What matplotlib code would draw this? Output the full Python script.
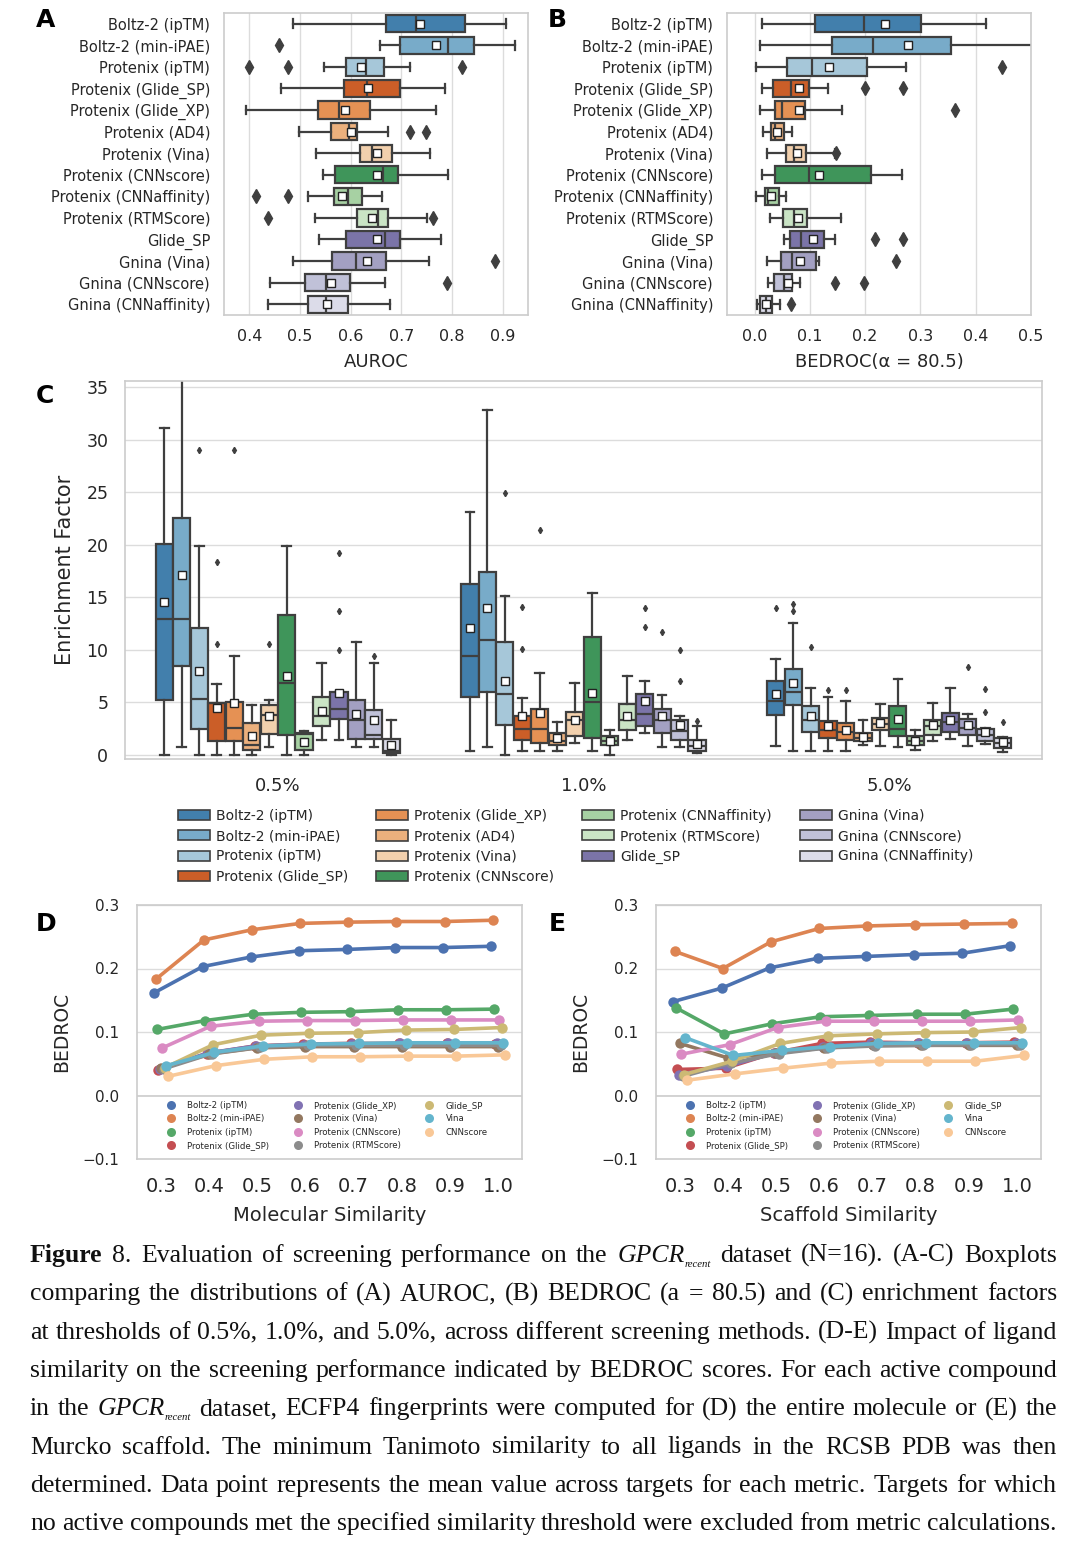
import numpy as np
import matplotlib
matplotlib.use("Agg")
import matplotlib.pyplot as plt
import colorsys
from matplotlib.colors import to_rgb
from matplotlib.patches import Patch, Rectangle
from matplotlib.lines import Line2D

# ---------------- data ----------------
methods = ["Boltz-2 (ipTM)", "Boltz-2 (min-iPAE)", "Protenix (ipTM)", "Protenix (Glide_SP)",
           "Protenix (Glide_XP)", "Protenix (AD4)", "Protenix (Vina)", "Protenix (CNNscore)",
           "Protenix (CNNaffinity)", "Protenix (RTMScore)", "Glide_SP", "Gnina (Vina)",
           "Gnina (CNNscore)", "Gnina (CNNaffinity)"]
box_colors = ["#3182bd", "#6baed6", "#9ecae1", "#e6550d", "#fd8d3c", "#fdae6b", "#fdd0a2",
              "#31a354", "#a1d99b", "#c7e9c0", "#756bb1", "#9e9ac8", "#bcbddc", "#dadaeb"]

auroc_whislo = [0.487, 0.658, 0.548, 0.462, 0.393, 0.499, 0.532, 0.545, 0.516, 0.529, 0.538, 0.487, 0.440, 0.436]
auroc_q1 = [0.669, 0.697, 0.590, 0.586, 0.535, 0.562, 0.619, 0.570, 0.568, 0.613, 0.591, 0.563, 0.509, 0.515]
auroc_med = [0.728, 0.793, 0.631, 0.633, 0.577, 0.596, 0.643, 0.663, 0.594, 0.653, 0.667, 0.610, 0.552, 0.552]
auroc_mean = [0.736, 0.769, 0.621, 0.635, 0.589, 0.601, 0.652, 0.651, 0.583, 0.642, 0.652, 0.633, 0.562, 0.554]
auroc_q3 = [0.825, 0.844, 0.665, 0.698, 0.638, 0.612, 0.682, 0.694, 0.622, 0.673, 0.697, 0.669, 0.598, 0.595]
auroc_whishi = [0.907, 0.924, 0.717, 0.786, 0.768, 0.673, 0.756, 0.792, 0.661, 0.750, 0.778, 0.755, 0.667, 0.677]
auroc_fliers = [[], [0.459], [0.400, 0.476, 0.819], [], [], [0.717, 0.748], [], [], [0.414, 0.477],
                [0.437, 0.763], [], [0.884], [0.790], []]

bedroc_whislo = [0.013, 0.010, 0.002, 0.014, 0.009, 0.016, 0.023, 0.014, 0.003, 0.027, 0.053, 0.022, 0.025, 0.004]
bedroc_q1 = [0.110, 0.140, 0.058, 0.033, 0.036, 0.029, 0.057, 0.036, 0.019, 0.052, 0.064, 0.047, 0.035, 0.010]
bedroc_med = [0.198, 0.214, 0.104, 0.065, 0.050, 0.036, 0.071, 0.098, 0.025, 0.071, 0.084, 0.067, 0.053, 0.021]
bedroc_mean = [0.235, 0.278, 0.134, 0.081, 0.080, 0.040, 0.077, 0.117, 0.029, 0.079, 0.106, 0.082, 0.061, 0.021]
bedroc_q3 = [0.301, 0.356, 0.204, 0.099, 0.092, 0.053, 0.093, 0.210, 0.044, 0.095, 0.125, 0.111, 0.068, 0.032]
bedroc_whishi = [0.418, 0.520, 0.273, 0.133, 0.158, 0.067, 0.145, 0.267, 0.056, 0.157, 0.146, 0.117, 0.082, 0.045]
bedroc_fliers = [[], [], [0.448], [0.199, 0.269], [0.362], [], [0.147], [], [], [], [0.217, 0.269],
                 [0.256], [0.145, 0.198], [0.065]]

ef_groups = ["0.5%", "1.0%", "5.0%"]
# per group: 14 methods
ef_whislo = [[0, 0.7, 0, 0, 0, 0, 0.7, 0, 0, 1.4, 1.4, 0.7, 0.7, 0],
             [0.4, 0.7, 0, 0.4, 0.4, 0.4, 1.1, 0.4, 0, 1.4, 2.1, 0.7, 0.7, 0.15],
             [0.86, 0.4, 0.4, 0.4, 0.4, 0.95, 0.86, 0.73, 0.48, 1.3, 1.5, 0.86, 1.05, 0.3]]
ef_q1 = [[5.2, 8.5, 2.5, 1.3, 1.3, 0.5, 2.0, 1.9, 0.5, 2.7, 3.4, 1.5, 1.5, 0.2],
         [5.55, 6.0, 2.8, 1.4, 1.1, 0.95, 1.75, 1.6, 0.9, 2.4, 2.7, 2.1, 1.4, 0.4],
         [3.75, 4.7, 2.2, 1.6, 1.4, 1.3, 2.4, 1.75, 0.95, 1.9, 2.2, 1.85, 1.3, 0.63]]
ef_med = [[12.9, 12.9, 5.3, 4.9, 2.6, 0.9, 3.8, 6.8, 2.0, 3.7, 4.4, 3.3, 1.9, 0.4],
          [9.4, 10.9, 5.8, 2.5, 2.5, 1.3, 3.3, 5.0, 1.3, 3.3, 3.9, 3.3, 2.3, 0.8],
          [5.1, 6.0, 3.3, 2.4, 2.2, 1.6, 2.9, 2.5, 1.3, 2.7, 3.1, 2.6, 1.9, 1.1]]
ef_mean = [[14.6, 17.1, 8.0, 4.5, 4.9, 1.8, 3.7, 7.5, 1.2, 4.2, 5.9, 3.9, 3.3, 0.95],
           [12.1, 14.0, 7.05, 3.65, 4.0, 1.6, 3.3, 5.9, 1.3, 3.7, 5.1, 3.7, 2.8, 1.05],
           [5.8, 6.8, 3.65, 2.7, 2.4, 1.7, 3.0, 3.4, 1.35, 2.8, 3.3, 2.8, 2.15, 1.2]]
ef_q3 = [[20.1, 22.6, 12.1, 4.9, 5.0, 3.0, 4.7, 13.3, 2.1, 5.5, 6.0, 5.2, 4.3, 1.5],
         [16.25, 17.4, 10.7, 3.7, 4.35, 2.1, 4.1, 11.2, 1.8, 4.8, 5.8, 4.35, 3.3, 1.4],
         [7.0, 8.2, 4.65, 3.2, 3.0, 2.05, 3.5, 4.65, 1.75, 3.3, 4.0, 3.4, 2.45, 1.6]]
ef_whishi = [[31.1, 36.0, 19.9, 6.7, 9.4, 4.7, 5.2, 19.9, 2.3, 8.7, 6.0, 10.7, 8.7, 3.3],
             [23.1, 32.8, 15.1, 5.4, 7.8, 3.1, 6.8, 15.4, 2.4, 7.5, 7.0, 5.7, 3.65, 2.7],
             [9.1, 12.6, 6.4, 5.5, 5.1, 3.3, 4.8, 7.2, 2.4, 4.9, 6.4, 3.9, 2.55, 1.65]]
ef_fliers = [[[], [], [29.0], [10.6, 18.4], [29.0], [], [10.6], [], [], [], [10.0, 13.7, 19.2], [], [9.4], []],
             [[], [], [24.9], [10.1, 14.1], [21.4], [], [], [], [], [], [12.2, 14.0], [11.7], [7.05, 10.0], [3.2]],
             [[14.0], [13.65, 14.4], [10.3], [6.2], [6.2], [], [], [], [], [], [], [8.4], [4.05, 6.25], [3.1]]]

sim_labels = ["0.3", "0.4", "0.5", "0.6", "0.7", "0.8", "0.9", "1.0"]
sim_methods = ["Boltz-2 (ipTM)", "Boltz-2 (min-iPAE)", "Protenix (ipTM)", "Protenix (Glide_SP)",
               "Protenix (Glide_XP)", "Protenix (Vina)", "Protenix (CNNscore)", "Protenix (RTMScore)",
               "Glide_SP", "Vina", "CNNscore"]
sim_colors = ["#4C72B0", "#DD8452", "#55A868", "#C44E52", "#8172B3", "#937860", "#DA8BC3",
              "#8C8C8C", "#CCB974", "#64B5CD", "#F9C897"]
mol_bedroc = [[0.162, 0.203, 0.218, 0.228, 0.230, 0.233, 0.233, 0.235],
              [0.183, 0.245, 0.261, 0.271, 0.273, 0.274, 0.274, 0.276],
              [0.104, 0.118, 0.128, 0.131, 0.132, 0.135, 0.135, 0.136],
              [0.040, 0.066, 0.078, 0.081, 0.082, 0.082, 0.082, 0.081],
              [0.042, 0.067, 0.078, 0.080, 0.081, 0.082, 0.082, 0.082],
              [0.043, 0.065, 0.075, 0.077, 0.077, 0.077, 0.077, 0.077],
              [0.075, 0.109, 0.117, 0.118, 0.118, 0.119, 0.119, 0.119],
              [0.042, 0.066, 0.076, 0.079, 0.079, 0.079, 0.079, 0.079],
              [0.044, 0.080, 0.095, 0.098, 0.099, 0.103, 0.104, 0.107],
              [0.047, 0.068, 0.078, 0.081, 0.082, 0.083, 0.083, 0.083],
              [0.030, 0.047, 0.057, 0.061, 0.061, 0.062, 0.062, 0.064]]
scaf_bedroc = [[0.148, 0.169, 0.201, 0.216, 0.219, 0.222, 0.224, 0.236],
               [0.227, 0.200, 0.242, 0.263, 0.267, 0.269, 0.270, 0.271],
               [0.138, 0.097, 0.113, 0.124, 0.126, 0.128, 0.128, 0.136],
               [0.041, 0.043, 0.067, 0.082, 0.084, 0.083, 0.083, 0.084],
               [0.033, 0.046, 0.067, 0.077, 0.082, 0.083, 0.083, 0.083],
               [0.082, 0.059, 0.067, 0.075, 0.079, 0.079, 0.079, 0.079],
               [0.065, 0.080, 0.107, 0.117, 0.117, 0.117, 0.117, 0.119],
               [0.030, 0.051, 0.066, 0.075, 0.078, 0.079, 0.080, 0.080],
               [0.033, 0.054, 0.082, 0.094, 0.097, 0.099, 0.100, 0.107],
               [0.091, 0.063, 0.071, 0.077, 0.082, 0.083, 0.083, 0.083],
               [0.024, 0.034, 0.043, 0.051, 0.054, 0.054, 0.054, 0.063]]

caption_lines = [
    "Figure 8. Evaluation of screening performance on the GPCR_recent dataset (N=16). (A-C) Boxplots",
    "comparing the distributions of (A) AUROC, (B) BEDROC (a = 80.5) and (C) enrichment factors",
    "at thresholds of 0.5%, 1.0%, and 5.0%, across different screening methods. (D-E) Impact of ligand",
    "similarity on the screening performance indicated by BEDROC scores. For each active compound",
    "in the GPCR_recent dataset, ECFP4 fingerprints were computed for (D) the entire molecule or (E) the",
    "Murcko scaffold. The minimum Tanimoto similarity to all ligands in the RCSB PDB was then",
    "determined. Data point represents the mean value across targets for each metric. Targets for which",
    "no active compounds met the specified similarity threshold were excluded from metric calculations.",
]

# ---------------- helpers ----------------
W, H = 1080, 1549
fig = plt.figure(figsize=(W / 100, H / 100), dpi=100)
fig.patch.set_facecolor("white")
TXT = "#262626"
EDGE = "#3f3f3f"
GRID = "#dcdcdc"
SPINE = "#cccccc"


def rect(l, t, r, b):
    return [l / W, 1 - b / H, (r - l) / W, (b - t) / H]


def desat(c, prop=0.75):
    r, g, b = to_rgb(c)
    h, l, s = colorsys.rgb_to_hls(r, g, b)
    return colorsys.hls_to_rgb(h, l, s * prop)


def style_axes(ax):
    ax.set_facecolor("white")
    for s in ax.spines.values():
        s.set_color(SPINE)
        s.set_linewidth(1.2)
    ax.set_axisbelow(True)


def draw_boxes(ax, positions, width, lo, q1, med, mean, q3, hi, fl, colors, horizontal,
               lw, capw, flier_ms, mean_ms):
    stats = []
    for i in range(len(positions)):
        stats.append(dict(whislo=lo[i], q1=q1[i], med=med[i], mean=mean[i], q3=q3[i],
                          whishi=hi[i], fliers=np.array(fl[i], dtype=float)))
    kw = dict(positions=positions, widths=width, patch_artist=True, showmeans=True,
              manage_ticks=False, capwidths=capw,
              boxprops=dict(edgecolor=EDGE, linewidth=lw),
              whiskerprops=dict(color=EDGE, linewidth=lw),
              capprops=dict(color=EDGE, linewidth=lw),
              medianprops=dict(color=EDGE, linewidth=lw),
              meanprops=dict(marker="s", markerfacecolor="white", markeredgecolor="#222222",
                             markersize=mean_ms, markeredgewidth=1.0),
              flierprops=dict(marker="d", markerfacecolor=EDGE, markeredgecolor=EDGE,
                              markersize=flier_ms, linestyle="none"))
    try:
        art = ax.bxp(stats, orientation="horizontal" if horizontal else "vertical", **kw)
    except TypeError:
        art = ax.bxp(stats, vert=not horizontal, **kw)
    for p, c in zip(art["boxes"], colors):
        p.set_facecolor(desat(c))
        p.set_edgecolor(EDGE)


# ---------------- Panel A ----------------
axA = fig.add_axes(rect(224, 13, 528, 315))
style_axes(axA)
rows = np.arange(len(methods))
draw_boxes(axA, rows, 0.8, auroc_whislo, auroc_q1, auroc_med, auroc_mean, auroc_q3, auroc_whishi,
           auroc_fliers, box_colors, True, 1.6, 0.4, 7.5, 5.5)
axA.set_xlim(0.35, 0.95)
axA.set_ylim(len(methods) - 0.5, -0.5)
axA.set_xticks([0.4, 0.5, 0.6, 0.7, 0.8, 0.9])
axA.set_xticklabels(["0.4", "0.5", "0.6", "0.7", "0.8", "0.9"])
axA.set_yticks(rows)
axA.set_yticklabels(methods)
axA.grid(axis="x", color=GRID, linewidth=1.0)
axA.grid(axis="y", visible=False)
axA.tick_params(axis="y", length=0, pad=10, labelsize=10.5, colors=TXT)
axA.tick_params(axis="x", length=0, pad=10, labelsize=11.5, colors=TXT)
axA.set_xlabel("AUROC", fontsize=13, color=TXT)
axA.xaxis.set_label_coords(0.5, -0.125)

# ---------------- Panel B ----------------
axB = fig.add_axes(rect(727, 13, 1031, 315))
style_axes(axB)
draw_boxes(axB, rows, 0.8, bedroc_whislo, bedroc_q1, bedroc_med, bedroc_mean, bedroc_q3, bedroc_whishi,
           bedroc_fliers, box_colors, True, 1.6, 0.4, 7.5, 5.5)
axB.set_xlim(-0.05, 0.5)
axB.set_ylim(len(methods) - 0.5, -0.5)
axB.set_xticks([0.0, 0.1, 0.2, 0.3, 0.4, 0.5])
axB.set_xticklabels(["0.0", "0.1", "0.2", "0.3", "0.4", "0.5"])
axB.set_yticks(rows)
axB.set_yticklabels(methods)
axB.grid(axis="x", color=GRID, linewidth=1.0)
axB.grid(axis="y", visible=False)
axB.tick_params(axis="y", length=0, pad=10, labelsize=10.5, colors=TXT)
axB.tick_params(axis="x", length=0, pad=10, labelsize=11.5, colors=TXT)
axB.set_xlabel("BEDROC(α = 80.5)", fontsize=13, color=TXT)
axB.xaxis.set_label_coords(0.5, -0.125)

# ---------------- Panel C ----------------
axC = fig.add_axes(rect(125, 381, 1042, 759))
style_axes(axC)
n = len(methods)
bw = 0.8 / n
for g in range(len(ef_groups)):
    pos = [g - 0.4 + (k + 0.5) * bw for k in range(n)]
    draw_boxes(axC, pos, bw * 0.98, ef_whislo[g], ef_q1[g], ef_med[g], ef_mean[g], ef_q3[g],
               ef_whishi[g], ef_fliers[g], box_colors, False, 1.6, bw * 0.5, 3.2, 5.5)
axC.set_xlim(-0.5, len(ef_groups) - 0.5)
axC.set_ylim(-0.4, 35.6)
axC.set_xticks(range(len(ef_groups)))
axC.set_xticklabels(ef_groups)
axC.set_yticks([0, 5, 10, 15, 20, 25, 30, 35])
axC.grid(axis="y", color=GRID, linewidth=1.0)
axC.grid(axis="x", visible=False)
axC.tick_params(axis="y", length=0, pad=12, labelsize=12.5, colors=TXT)
axC.tick_params(axis="x", length=0, pad=13, labelsize=13, colors=TXT)
axC.set_ylabel("Enrichment Factor", fontsize=15, color=TXT)
axC.yaxis.set_label_coords(-0.055, 0.5)

handles = [Patch(facecolor=desat(c), edgecolor=EDGE, linewidth=1.2) for c in box_colors]
fig.legend(handles, methods, loc="upper left", bbox_to_anchor=(171 / W, 1 - 802 / H),
           ncol=4, frameon=False, fontsize=10, handlelength=2.3, handleheight=0.75,
           handletextpad=0.45, columnspacing=2.0, labelspacing=0.45, borderpad=0,
           labelcolor=TXT)


# ---------------- Panels D & E ----------------
def sim_panel(box, data, xlabel):
    ax = fig.add_axes(rect(*box))
    style_axes(ax)
    nh = len(sim_methods)
    offs = np.linspace(-0.025 * nh / 2, 0.025 * nh / 2, nh)
    x = np.arange(len(sim_labels))
    for i, (vals, c) in enumerate(zip(data, sim_colors)):
        ax.plot(x + offs[i], vals, color=c, linewidth=2.6, marker="o", markersize=7.5,
                markeredgewidth=0, zorder=3 + i * 0.01)
    ax.set_xlim(-0.5, len(sim_labels) - 0.5)
    ax.set_ylim(-0.1, 0.3)
    ax.set_xticks(x)
    ax.set_xticklabels(sim_labels)
    ax.set_yticks([-0.1, 0.0, 0.1, 0.2, 0.3])
    ax.set_yticklabels(["\u22120.1", "0.0", "0.1", "0.2", "0.3"])
    ax.grid(axis="y", color=GRID, linewidth=1.0)
    ax.grid(axis="x", visible=False)
    ax.tick_params(axis="y", length=0, pad=13, labelsize=11, colors=TXT)
    ax.tick_params(axis="x", length=0, pad=13, labelsize=14, colors=TXT)
    ax.set_xlabel(xlabel, fontsize=14, color=TXT)
    ax.xaxis.set_label_coords(0.5, -0.185)
    ax.set_ylabel("BEDROC", fontsize=13.5, color=TXT)
    ax.yaxis.set_label_coords(-0.172, 0.5)
    ax.add_patch(Rectangle((0, 0), 1, 0.25, transform=ax.transAxes, facecolor="white",
                           edgecolor=SPINE, linewidth=1.2, zorder=5))
    hs = [Line2D([], [], linestyle="none", marker="o", markersize=6.5, color=c, markeredgewidth=0)
          for c in sim_colors]
    leg = ax.legend(hs, sim_methods, loc="upper left", bbox_to_anchor=(0.052, 0.245),
                    ncol=3, frameon=False, fontsize=6.2, handlelength=2.2, handletextpad=0.8,
                    columnspacing=2.2, labelspacing=0.5, borderpad=0, labelcolor=TXT)
    leg.set_zorder(6)
    return ax


sim_panel((137, 905, 522, 1159), mol_bedroc, "Molecular Similarity")
sim_panel((656, 905, 1041, 1159), scaf_bedroc, "Scaffold Similarity")

# ---------------- panel letters ----------------
for lab, px, py in [("A", 46, 20), ("B", 557, 20), ("C", 45, 396), ("D", 46, 924), ("E", 557, 924)]:
    fig.text(px / W, 1 - py / H, lab, fontsize=18, fontweight="bold", ha="center", va="center",
             color="black")

# ---------------- caption (justified) ----------------
renderer = fig.canvas.get_renderer()
CAP_FONT = ["Liberation Serif", "DejaVu Serif"]
left_px, right_px = 30, 1057
baseline0, pitch = 1262, 38.3


def pieces_for(word, li, wi, fs):
    base = dict(fontsize=fs, family=CAP_FONT, color="#111111")
    if li == 0 and wi == 0 and word == "Figure":
        return [(word, dict(base, fontweight="bold"), 0)]
    if word.startswith("GPCR_recent"):
        rest = word[len("GPCR_recent"):]
        out = [("GPCR", dict(base, style="italic"), 0),
               ("recent", dict(base, style="italic", fontsize=fs * 0.42), -5)]
        if rest:
            out.append((rest, base, 0))
        return out
    return [(word, base, 0)]


def width_of(txt, props):
    t = fig.text(0, 0, txt, **props)
    w = t.get_window_extent(renderer).width
    t.remove()
    return w


def layout(fs):
    lines = []
    ok = True
    for li, line in enumerate(caption_lines):
        words = line.split(" ")
        wl = []
        for wi, w in enumerate(words):
            ps = pieces_for(w, li, wi, fs)
            ws = [width_of(p[0], p[1]) for p in ps]
            wl.append((ps, ws))
        total = sum(sum(ws) for _, ws in wl)
        gap = (right_px - left_px - total) / (len(wl) - 1)
        if gap < fs * 1.389 * 0.22:
            ok = False
        lines.append((wl, gap))
    return ok, lines


fs = 22.0
while True:
    ok, lines = layout(fs)
    if ok or fs < 10:
        break
    fs -= 0.25

for li, (wl, gap) in enumerate(lines):
    y = baseline0 + li * pitch
    x = left_px
    for ps, ws in wl:
        for (txt, props, dy), w in zip(ps, ws):
            fig.text(x / W, 1 - (y - dy) / H, txt, ha="left", va="baseline", **props)
            x += w
        x += gap

fig.savefig("out.png", dpi=100, facecolor="white")
